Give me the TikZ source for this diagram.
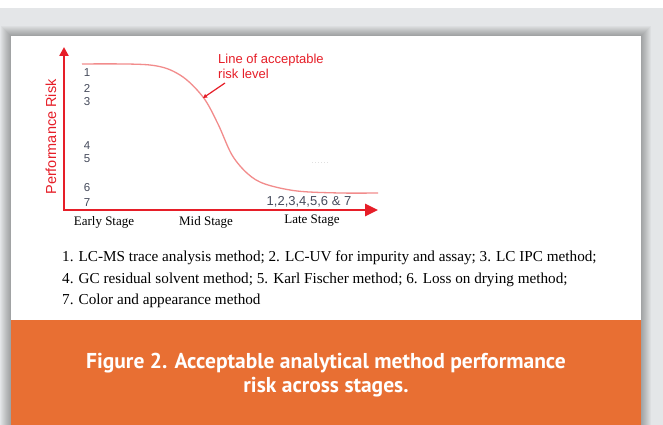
\documentclass[tikz,border=0pt]{standalone}
\usepackage{fontspec}
\setmainfont{Liberation Serif}
\newfontfamily\arialfont{Liberation Sans}
\newfontfamily\capfont{PT Sans}
\usetikzlibrary{arrows.meta}
\definecolor{riskred}{RGB}{230,30,40}
\definecolor{curvered}{RGB}{242,140,140}
\definecolor{numgray}{RGB}{70,75,92}
\definecolor{pagegray}{RGB}{228,230,232}
\definecolor{bandorange}{RGB}{232,111,51}
\tikzset{
  axis/.style={riskred, line width=2.6pt},
  num/.style={numgray, font=\arialfont\fontsize{11.5}{11.5}\selectfont, inner sep=0pt},
  stage/.style={font=\fontsize{13}{13}\selectfont, inner sep=0pt, text=black},
  legend/.style={font=\fontsize{15.2}{15.2}\selectfont, inner sep=0pt, anchor=base west},
}
\begin{document}
\begin{tikzpicture}[x=1pt,y=-1pt]
\useasboundingbox (0,0) rectangle (663,425);
\clip (0,0) rectangle (663,425);
\fill[white] (0,0) rectangle (663,8);
\fill[pagegray] (0,8) rectangle (663,425);
% ombra del riquadro
\foreach \s in {1,...,10} {
  \fill[black, opacity=0.03] (11-\s,36-\s) rectangle (641+\s,440);}
\fill[white] (11,36) rectangle (641,320);
\fill[bandorange] (11,320) rectangle (641,425);
% assi
\coordinate (origin) at (64,210);
\coordinate (ytop) at (64,47);
\coordinate (xend) at (378,210);
\draw[axis, {Triangle[length=9pt,width=9pt]}-{Triangle[length=13pt,width=12pt]}]
  (ytop) -- (origin) -- (xend);
\node[riskred, rotate=90, font=\arialfont\fontsize{14.5}{14.5}\selectfont, inner sep=0pt]
  (ylabel) at (51,137) {Performance Risk};
% curva del rischio
\draw[curvered, line width=1.3pt] plot[smooth, tension=0.55] coordinates
  {(82,64) (150,65) (180,75) (203,97) (218,124) (232,155) (248,174)
   (265,184) (297,191) (340,193) (378,193)};
\coordinate (riskpt) at (203,98);
\coordinate (arrtail) at (225,83);
\node[riskred, font=\arialfont\fontsize{13}{15}\selectfont, align=left,
  anchor=north west, inner sep=0pt] (risklbl) at (218,53.5)
  {Line of acceptable\\risk level};
\draw[riskred, line width=1.2pt, -{Triangle[length=4pt,width=4pt]}] (arrtail) -- (riskpt);
\draw[black!12, dotted, line width=1pt] (312,162) -- (330,162);
% metodi
\foreach \n/\y in {1/73,2/88,3/102,4/146,5/159,6/188,7/203} {
  \node[num] (n\n) at (87,\y) {\n};}
\node[num, font=\arialfont\fontsize{13}{13}\selectfont] (all) at (309,202) {1,2,3,4,5,6 \& 7};
% fasi
\node[stage] (early) at (104,222) {Early Stage};
\node[stage] (mid) at (206,222) {Mid Stage};
\node[stage] (late) at (312,221) {Late Stage};
% legenda
\node[legend] (leg1) at (62,261.5) {1. LC-MS trace analysis method; 2. LC-UV for impurity and assay; 3. LC IPC method;};
\node[legend] (leg2) at (62,283) {4. GC residual solvent method; 5. Karl Fischer method; 6. Loss on drying method;};
\node[legend] (leg3) at (62,304) {7. Color and appearance method};
% didascalia
\node[white, font=\capfont\bfseries\fontsize{21.5}{24}\selectfont, align=center,
  anchor=north, inner sep=0pt] (caption) at (326,352.5)
  {Figure 2. Acceptable analytical method performance\\risk across stages.};
\end{tikzpicture}
\end{document}
